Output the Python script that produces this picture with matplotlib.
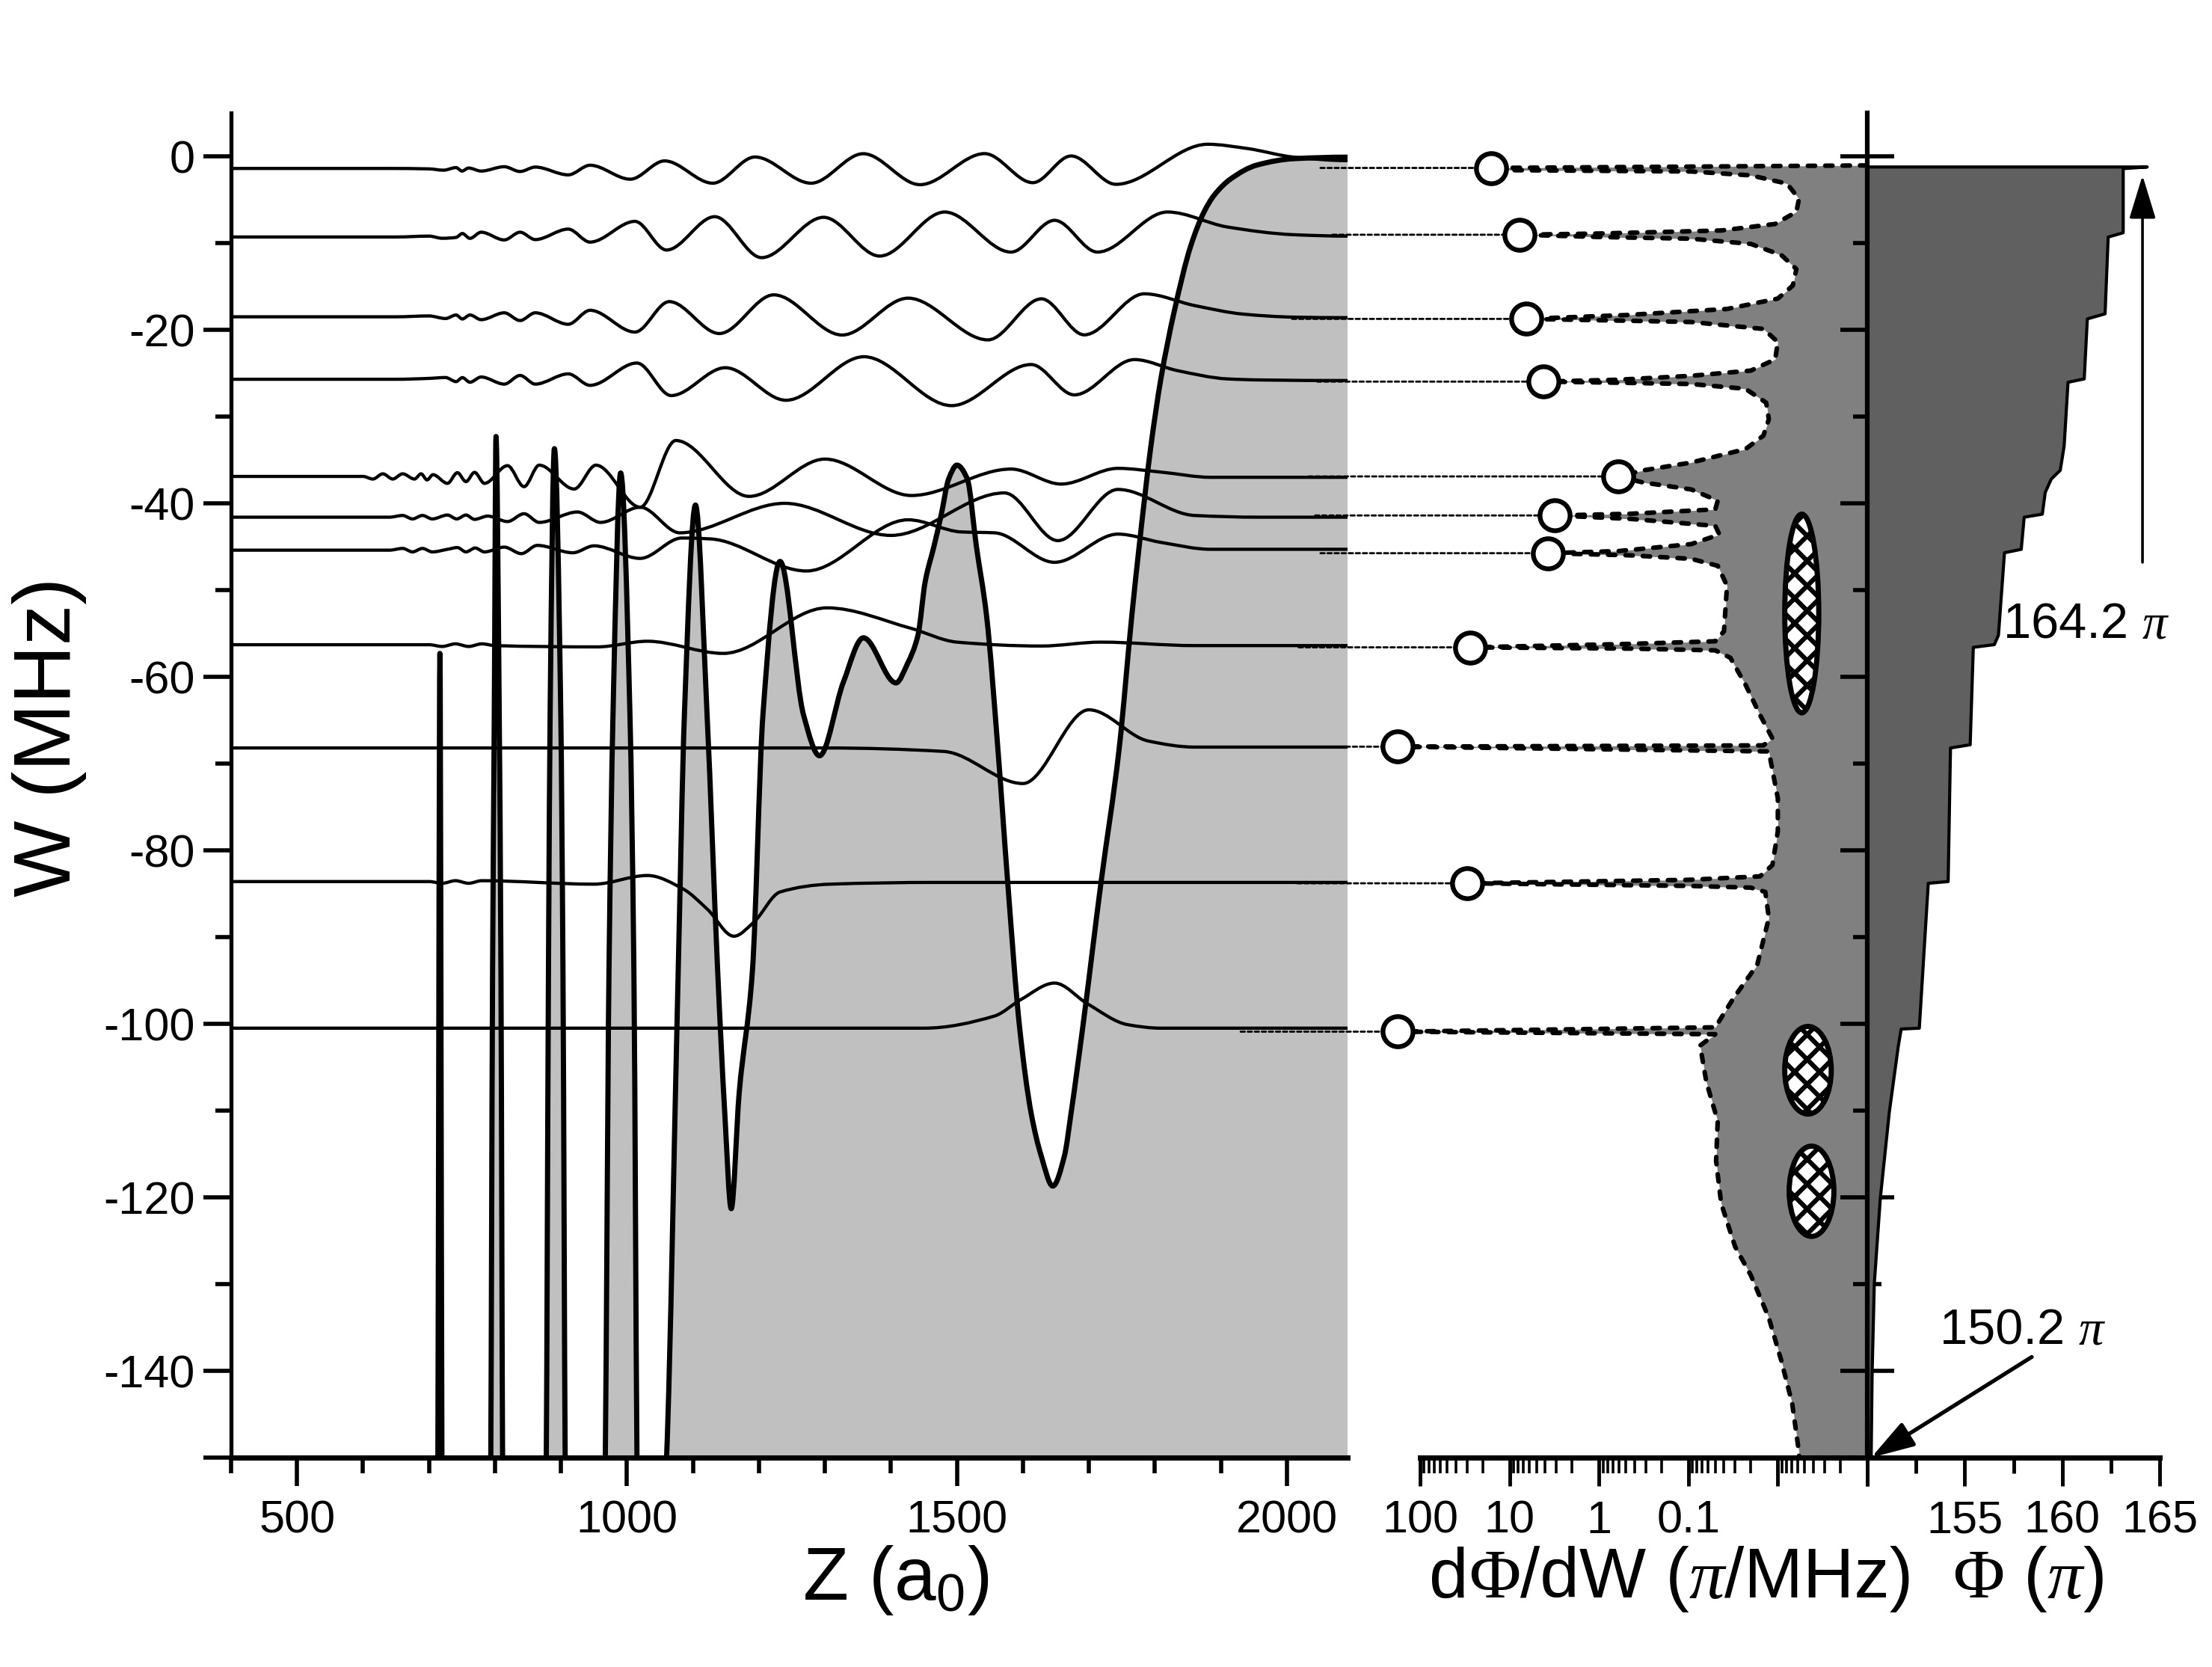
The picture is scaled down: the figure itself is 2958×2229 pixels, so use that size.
import numpy as np
import matplotlib
matplotlib.use("Agg")
import matplotlib.pyplot as plt
from matplotlib.path import Path
from matplotlib.patches import PathPatch, Ellipse, ConnectionPatch
from matplotlib.offsetbox import TextArea, HPacker, AnnotationBbox
from matplotlib.ticker import FixedLocator, LogLocator, NullFormatter

plt.rcParams["font.family"] = ["Liberation Sans", "DejaVu Sans"]
plt.rcParams["axes.unicode_minus"] = False
plt.rcParams["mathtext.fontset"] = "custom"
plt.rcParams["mathtext.rm"] = "Liberation Sans"
plt.rcParams["mathtext.it"] = "Liberation Sans:italic"
plt.rcParams["hatch.linewidth"] = 4.5

# ---------------- data ----------------
# potential curve W(Z)
pot_z = [400, 705, 713, 716.5, 720, 755, 793, 796.3, 798.9, 801.5, 806.4, 809, 812, 845,
         877, 881, 883.5, 890, 899.7, 903, 907, 935, 966, 972.7, 978.8, 990.4, 1004.5, 1010.5,
         1016, 1037, 1060, 1077.6, 1087, 1103.8, 1121.4, 1137.5, 1148, 1158, 1170, 1190, 1206,
         1232, 1267.6, 1291.8, 1328, 1358.3, 1407.7, 1425, 1441, 1452, 1465.4, 1476, 1487.5,
         1500, 1515.8, 1529.4, 1545, 1562, 1577, 1595, 1612.5, 1627.7, 1645.3, 1663, 1673,
         1690.7, 1718.4, 1746, 1765, 1776.3, 1794, 1809, 1829, 1854.5, 1874.6, 1889.7, 1915,
         1955, 2011, 2092]
pot_w = [-180, -180, -155, -57.3, -155, -180, -155, -94, -64.4, -32.3, -64.4, -94, -155, -180,
         -155, -94, -64.4, -33.7, -64.4, -94, -155, -180, -155, -94, -64.4, -36.5, -64.4, -94,
         -155, -180, -150, -94, -64.4, -40.2, -64.4, -94, -110, -121.3, -108, -94, -64.4,
         -46.7, -64.4, -69.1, -60.6, -55.5, -60.7, -58.5, -55.2, -49, -44.9, -41.4, -37.2,
         -35.6, -37.2, -44.9, -53, -68.2, -83.7, -100.4, -110.3, -115.2, -118.7, -115.2, -110.3,
         -100.4, -83.7, -68.2, -53, -44.9, -33.4, -25.7, -18, -10.3, -6.4, -4.5, -2.6,
         -1.0, -0.27, -0.1]

# wavefunctions (extrema / nodes)
lv1_z = [400, 640, 700, 722, 741, 750, 760, 779, 814, 838, 861, 911, 944, 1005, 1057, 1130, 1194,
         1279, 1358, 1444, 1542, 1615, 1673, 1741, 1880, 1940, 2011, 2092]
lv1_w = [-1.4, -1.4, -1.45, -1.6, -1.3, -1.7, -1.35, -1.7, -1.2, -1.75, -1.24, -2.14, -1.03, -2.64,
         -0.53, -3.1, -0.08, -3.1, 0.3, -3.27, 0.31, -3.04, 0.04, -3.23, 1.39, 0.9, -0.1, -0.5]
lv2_z = [400, 650, 700, 720, 741, 750.5, 762, 779, 814, 838, 861, 911, 944, 1012, 1060, 1133, 1204,
         1298, 1383, 1481.5, 1582, 1648, 1713, 1819, 1910, 2011, 2092]
lv2_w = [-9.3, -9.3, -9.2, -9.45, -9.35, -8.9, -9.46, -8.75, -9.64, -8.75, -9.6, -8.39, -9.89, -7.5,
         -10.8, -6.96, -11.68, -7.03, -11.5, -6.42, -11.04, -7.38, -11.04, -6.42, -8.15, -9.04, -9.2]
lv3_z = [400, 650, 700, 725, 741, 750.5, 762, 779, 814, 838, 861, 911, 944, 1012, 1064, 1140, 1222.5,
         1326, 1426, 1547, 1628, 1693, 1784, 1860, 1935, 2011, 2092]
lv3_w = [-18.5, -18.5, -18.4, -18.7, -18.29, -18.75, -18.29, -18.83, -18.04, -18.93, -18.04, -19.36,
         -17.75, -20.26, -16.75, -20.43, -15.97, -20.6, -16.35, -21.16, -16.43, -20.58, -15.85,
         -17.2, -18.2, -18.54, -18.6]
lv4_z = [400, 650, 700, 725, 741, 750.5, 762, 779, 814, 838, 861, 911, 944, 1015, 1067, 1149, 1241,
         1359, 1492, 1612.5, 1678, 1769, 1834, 1910, 1960, 2092]
lv4_w = [-25.7, -25.7, -25.6, -25.5, -25.97, -25.51, -26.04, -25.44, -26.26, -25.26, -26.26, -25.08,
         -26.4, -23.83, -27.58, -24.37, -28.12, -23.1, -28.74, -24.0, -27.5, -23.43, -24.7, -25.66,
         -25.78, -25.85]
lv5_z = [400, 600, 615, 630, 645, 660, 678, 688, 697, 706, 728, 743, 756, 769, 784, 819, 844, 867,
         920, 953, 1020, 1074, 1185, 1300, 1431, 1582, 1658, 1744, 1809, 1885, 2092]
lv5_w = [-36.9, -36.9, -37.2, -36.6, -37.2, -36.6, -37.2, -36.6, -37.3, -36.7, -37.7, -36.47, -37.5,
         -36.43, -37.7, -35.66, -38.08, -35.6, -38.35, -35.6, -40.45, -32.76, -39.2, -34.9, -39.1,
         -36.05, -37.78, -35.97, -36.4, -37.0, -37.0]
lv6_z = [400, 640, 660, 675, 690, 705, 728, 742, 756, 769, 789, 819, 844, 867, 925, 960, 1020, 1080,
         1239, 1400, 1572, 1653, 1744, 1860, 1960, 2092]
lv6_w = [-41.6, -41.6, -41.4, -41.8, -41.4, -41.8, -41.35, -41.8, -41.35, -41.85, -41.47, -42.1,
         -41.2, -42.2, -41.0, -42.2, -40.45, -43.4, -40.0, -43.7, -38.8, -44.3, -38.4, -41.4,
         -41.6, -41.6]
lv7_z = [400, 640, 660, 675, 690, 705, 728, 743, 756, 770, 784, 814, 840, 864, 918, 950, 1020, 1083,
         1126, 1272, 1426, 1507, 1557, 1648, 1744, 1809, 1885, 2092]
lv7_w = [-45.4, -45.4, -45.2, -45.6, -45.2, -45.6, -45.3, -45.1, -45.6, -45.15, -45.6, -45.05, -45.8,
         -44.85, -45.7, -44.9, -46.35, -44.0, -44.1, -47.8, -41.9, -43.3, -43.4, -46.8, -43.55,
         -44.5, -45.3, -45.3]
lv8_z = [400, 700, 720, 740, 760, 780, 800, 955, 1031, 1146, 1303, 1430, 1500, 1628, 1718, 1860, 2092]
lv8_w = [-56.3, -56.3, -56.5, -56.2, -56.5, -56.2, -56.4, -56.55, -55.9, -57.3, -52.05, -54.4, -56.0,
         -56.45, -56.0, -56.4, -56.4]
lv9_z = [400, 1300, 1480, 1600, 1700, 1790, 1860, 2092]
lv9_w = [-68.2, -68.2, -68.6, -72.3, -63.8, -67.4, -68.1, -68.1]
lv10_z = [400, 700, 720, 740, 760, 780, 950, 1031, 1085, 1122, 1162, 1192, 1232, 1308, 1468, 2092]
lv10_w = [-83.6, -83.6, -83.8, -83.5, -83.8, -83.5, -83.9, -82.9, -84.45, -86.8, -89.9, -88.3,
          -84.8, -83.9, -83.7, -83.7]
lv11_z = [400, 1450, 1557, 1597, 1648, 1698, 1759, 1809, 2092]
lv11_w = [-100.5, -100.5, -99.1, -97.2, -95.3, -97.7, -100.1, -100.5, -100.5]

# dPhi/dW profile (value, W)
dphi_v = [0.001, 16.0, 9.5, 0.093, 0.02, 0.0079, 0.0058, 0.0062, 0.0107, 0.043, 1.0, 7.7, 1.0, 0.093,
          0.02, 0.0091, 0.0062, 0.0068, 0.01, 0.037, 0.5, 6.5, 0.5, 0.093, 0.0145, 0.01, 0.0107,
          0.02, 0.093, 0.6, 4.2, 0.6, 0.093, 0.023, 0.0135, 0.0126, 0.0145, 0.023, 0.093, 0.32,
          0.61, 0.32, 0.093, 0.047, 0.05, 0.44, 3.1, 0.44, 0.05, 0.045, 0.093, 0.6, 3.75, 0.44,
          0.093, 0.047, 0.037, 0.04, 0.05, 0.44, 27.5, 0.44, 0.05, 0.034, 0.023, 0.0158, 0.0115,
          0.0145, 177, 0.0126, 0.01, 0.01, 0.0115, 0.0158, 0.1, 29.7, 0.1, 0.02, 0.0138, 0.0126,
          0.017, 0.0316, 0.05, 177, 0.05, 0.074, 0.063, 0.047, 0.049, 0.043, 0.03, 0.02, 0.0126,
          0.0091, 0.0069, 0.0058, 0.0058]
dphi_w = [-1.05, -1.34, -1.6, -1.75, -2.2, -3.15, -4.9, -6.4, -7.8, -8.55, -8.9, -9.04, -9.3, -9.5,
          -10.1, -11.4, -13.0, -14.9, -16.4, -17.6, -18.3, -18.74, -18.95, -19.1, -19.9, -21.4,
          -23.4, -24.7, -25.3, -25.75, -25.97, -26.1, -26.25, -26.8, -28.4, -30.3, -32.2, -33.75,
          -35.3, -36.2, -36.9, -37.6, -38.4, -39.7, -40.7, -41.2, -41.4, -41.8, -42.6, -43.6,
          -44.7, -45.5, -45.75, -46.0, -46.4, -47.2, -49.5, -54.75, -55.9, -56.2, -56.6, -56.75,
          -56.95, -57.8, -60.9, -64.4, -67.1, -67.9, -68.05, -68.6, -74.0, -77.8, -81.7, -83.0,
          -83.4, -83.8, -84.1, -84.3, -84.8, -87.8, -93.2, -97.1, -100.4, -100.9, -101.2, -102.5,
          -106.7, -111.2, -115.8, -120.7, -125.7, -129.0, -133.9, -138.9, -143.8, -149.4, -150]

# resonance peaks (circles), and where the dotted links start in the left panel
circ_v = [16.0, 7.7, 6.5, 4.2, 0.61, 3.1, 3.75, 27.5, 177, 29.7, 177]
circ_w = [-1.34, -9.04, -18.74, -25.97, -36.9, -41.4, -45.75, -56.6, -68.05, -83.8, -100.9]
link_z = [2051, 2069, 2008, 2046, 2033, 2043, 2051, 2018, 1993, 2016, 1930]

# hatched ellipses in the dPhi/dW panel: centre value, centre W, width (decades), height (MHz)
ell_v = [0.0054, 0.0046, 0.0042]
ell_w = [-52.7, -105.35, -119.3]
ell_dec = [0.38, 0.52, 0.50]
ell_h = [22.9, 10.1, 10.4]

# accumulated phase Phi(W)
phi_w = [-150, -140.2, -130, -120.1, -110.2, -102.6, -100.6, -100.5, -83.8, -83.6, -68.2, -67.83,
         -56.6, -56.29, -55.2, -45.7, -45.3, -41.6, -41.25, -38.75, -37.2, -36.2, -33.4, -26.05,
         -25.66, -18.74, -18.16, -9.31, -8.81, -1.42, -1.23]
phi_v = [150.2, 150.25, 150.36, 150.67, 151.13, 151.59, 151.74, 152.67, 153.13, 154.15, 154.27,
         155.28, 155.44, 156.52, 156.73, 157.04, 157.9, 158.05, 158.98, 159.13, 159.44, 159.9,
         160.1, 160.3, 161.13, 161.29, 162.2, 162.36, 163.13, 163.13, 164.36]

z_ticks = [500, 1000, 1500, 2000]
w_ticks = [0, -20, -40, -60, -80, -100, -120, -140]
w_tick_labels = ["0", "-20", "-40", "-60", "-80", "-100", "-120", "-140"]
d_ticks = [100, 10, 1, 0.1, 0.01, 0.001]
d_tick_labels = ["100", "10", "1", "0.1", "", ""]
p_ticks = [150, 155, 160, 165]
p_tick_labels = ["", "155", "160", "165"]

levels = [(lv1_z, lv1_w), (lv2_z, lv2_w), (lv3_z, lv3_w), (lv4_z, lv4_w), (lv5_z, lv5_w),
          (lv6_z, lv6_w), (lv7_z, lv7_w), (lv8_z, lv8_w), (lv9_z, lv9_w), (lv10_z, lv10_w),
          (lv11_z, lv11_w)]


def smooth_verts(xs, ys):
    """Vertices/codes of a smooth monotone cubic Bezier path through the read points."""
    x = np.asarray(xs, float)
    y = np.asarray(ys, float)
    h = np.diff(x)
    d = np.diff(y) / h
    m = np.zeros_like(y)
    for k in range(1, len(y) - 1):
        if d[k - 1] * d[k] > 0:
            w1 = 2 * h[k] + h[k - 1]
            w2 = h[k] + 2 * h[k - 1]
            m[k] = (w1 + w2) / (w1 / d[k - 1] + w2 / d[k])
    verts = [(x[0], y[0])]
    codes = [Path.MOVETO]
    for k in range(len(x) - 1):
        verts += [(x[k] + h[k] / 3, y[k] + m[k] * h[k] / 3),
                  (x[k + 1] - h[k] / 3, y[k + 1] - m[k + 1] * h[k] / 3),
                  (x[k + 1], y[k + 1])]
        codes += [Path.CURVE4] * 3
    return verts, codes


def smooth_path(xs, ys):
    v, c = smooth_verts(xs, ys)
    return Path(v, c)


FW, FH = 2958.0, 2229.0
fig = plt.figure(figsize=(FW / 100, FH / 100), dpi=100)


def rect(x0, x1, y0=151, y1=1949):
    return [x0 / FW, 1 - y1 / FH, (x1 - x0) / FW, (y1 - y0) / FH]


ax1 = fig.add_axes(rect(309, 1802))
ax2 = fig.add_axes(rect(1899, 2497))
ax3 = fig.add_axes(rect(2497, 2888))
for ax in (ax1, ax2, ax3):
    ax.set_ylim(-150, 5)
    ax.patch.set_visible(False)
    ax.spines["top"].set_visible(False)
    ax.spines["right"].set_visible(False)

# ---------------- left panel ----------------
pv, pc = smooth_verts(pot_z, pot_w)
fill_path = Path(pv + [(pot_z[-1], -200), (pot_z[0], -200), (pot_z[0], -200)],
                 pc + [Path.LINETO, Path.LINETO, Path.CLOSEPOLY])
ax1.add_patch(PathPatch(fill_path, facecolor="#c0c0c0", edgecolor="none", lw=0, zorder=1))
for zs, ws in levels:
    ax1.add_patch(PathPatch(smooth_path(zs, ws), fill=False, ec="black", lw=3.1,
                            zorder=2, joinstyle="round", capstyle="round"))
ax1.add_patch(PathPatch(Path(pv, pc), fill=False, ec="black", lw=5.0, zorder=3,
                        joinstyle="round", capstyle="round"))
ax1.set_xlim(400, 2092)
ax1.set_ylim(-150, 5)
ax1.set_xticks(z_ticks)
ax1.xaxis.set_minor_locator(FixedLocator(np.arange(400, 2100, 100)))
ax1.set_yticks(w_ticks + [-150], labels=w_tick_labels + [""])
ax1.yaxis.set_minor_locator(FixedLocator(np.arange(-130, 0, 20)))
ax1.tick_params(which="major", direction="out", length=27, width=4, labelsize=44)
ax1.tick_params(which="minor", direction="out", length=15, width=4)
ax1.tick_params(axis="x", which="major", pad=14)
ax1.tick_params(axis="y", which="major", pad=8)
ax1.spines["left"].set_linewidth(3.8)
ax1.spines["bottom"].set_linewidth(5)

# ---------------- middle panel (dPhi/dW, log) ----------------
ax2.set_xscale("log")
ax2.set_xlim(100, 0.001)
ax2.spines["left"].set_visible(False)
ax2.fill_betweenx(dphi_w, dphi_v, 0.001, color="#808080", lw=0, zorder=1, clip_on=False)
ax2.plot(dphi_v + [0.001], dphi_w + [-150], color="black", lw=4.4,
         ls=(0, (1.6, 2.2)), dash_capstyle="round", zorder=3, clip_on=False)
for z, v, w in zip(link_z, circ_v, circ_w):
    con = ConnectionPatch(xyA=(z, w), coordsA=ax1.transData, xyB=(v, w), coordsB=ax2.transData,
                          color="black", lw=2.0, linestyle=(0, (2, 1.4)), zorder=4)
    ax2.add_artist(con)
    con.set_clip_on(False)
ax2.plot(circ_v, circ_w, "o", ls="none", ms=29, mfc="white", mec="black", mew=4.6,
         zorder=6, clip_on=False)
ax2.set_xticks(d_ticks, labels=d_tick_labels)
ax2.xaxis.set_minor_locator(LogLocator(base=10, subs=np.arange(2, 10), numticks=100))
ax2.xaxis.set_minor_formatter(NullFormatter())
ax2.tick_params(axis="y", left=False, labelleft=False)
ax2.tick_params(axis="x", which="major", direction="out", length=27, width=3.5,
                labelsize=44, pad=14)
ax2.tick_params(axis="x", which="minor", direction="out", length=15, width=2.6)
ax2.spines["bottom"].set_linewidth(5)

# overlay with linear log10 x for the hatched ellipses
ax2b = fig.add_axes(rect(1899, 2497))
ax2b.set_xlim(2, -3)
ax2b.set_ylim(-150, 5)
ax2b.axis("off")
for v, w, dd, hh in zip(ell_v, ell_w, ell_dec, ell_h):
    ax2b.add_patch(Ellipse((np.log10(v), w), dd, hh, facecolor="white", edgecolor="black",
                           lw=5, hatch="x", zorder=5))

# ---------------- right panel (Phi) ----------------
ax3.set_xlim(150, 165)
ax3.set_axisbelow(True)
ax3.fill_betweenx(phi_w, 150, phi_v, color="#606060", lw=0, zorder=1)
ax3.plot(phi_v + [150], phi_w + [-1.23], color="black", lw=3.0, zorder=2)
ax3.set_xticks(p_ticks, labels=p_tick_labels)
ax3.xaxis.set_minor_locator(FixedLocator([152.5, 157.5, 162.5]))
ax3.set_yticks(w_ticks, labels=[""] * len(w_ticks))
ax3.yaxis.set_minor_locator(FixedLocator(np.arange(-130, 0, 20)))
ax3.tick_params(axis="y", which="major", direction="inout", length=52, width=4)
ax3.tick_params(axis="y", which="minor", direction="inout", length=28, width=4)
ax3.tick_params(axis="x", which="major", direction="out", length=27, width=3.5,
                labelsize=44, pad=14)
ax3.tick_params(axis="x", which="minor", direction="out", length=15, width=3.5)
ax3.spines["left"].set_linewidth(4.5)
ax3.spines["bottom"].set_linewidth(5)

ax3.annotate("", xy=(164.12, -2.2), xytext=(164.12, -46.8),
             arrowprops=dict(arrowstyle="-|>,head_length=1.8,head_width=0.55", color="black",
                             lw=2.6, mutation_scale=20, shrinkA=0, shrinkB=0),
             annotation_clip=False)
ax3.annotate("", xy=(150.2, -150), xytext=(158.44, -138.4),
             arrowprops=dict(arrowstyle="-|>,head_length=1.6,head_width=0.5", color="black",
                             lw=3.8, mutation_scale=22, shrinkA=0, shrinkB=0),
             annotation_clip=False)

# ---------------- texts ----------------
fig.text(66 / FW, 1 - 985 / FH, "W (MHz)", rotation=90, ha="center", va="center", fontsize=78)
fig.text(1198 / FW, 1 - 2113 / FH, r"Z (a$_\mathregular{0}$)", ha="center", va="center",
         fontsize=72)


def mixed(parts, size):
    kids = []
    for s, kind in parts:
        if kind == "sans":
            tp = dict(fontsize=size, fontfamily="Liberation Sans")
        elif kind == "serif":
            tp = dict(fontsize=size, fontfamily="Liberation Serif")
        else:
            tp = dict(fontsize=size, fontfamily="Liberation Serif", fontstyle="italic")
        kids.append(TextArea(s, textprops=tp))
    return HPacker(children=kids, align="baseline", pad=0, sep=0)


def place(box, x, y, align):
    ab = AnnotationBbox(box, (x / FW, 1 - y / FH), xycoords="figure fraction", frameon=False,
                        box_alignment=align, annotation_clip=False, pad=0)
    fig.add_artist(ab)


place(mixed([("d", "sans"), ("Φ", "serif"), ("/dW (", "sans"), ("π", "pi"),
             ("/MHz)  ", "sans"), ("Φ", "serif"), (" (", "sans"), ("π", "pi"), (")", "sans")], 68),
      2364, 2112, (0.5, 0.5))
place(mixed([("164.2 ", "sans"), ("π", "pi")], 48), 2679, 836, (0.0, 0.5))
place(mixed([("150.2 ", "sans"), ("π", "pi")], 48), 2594, 1780, (0.0, 0.5))

fig.savefig("out.png", dpi=100)
